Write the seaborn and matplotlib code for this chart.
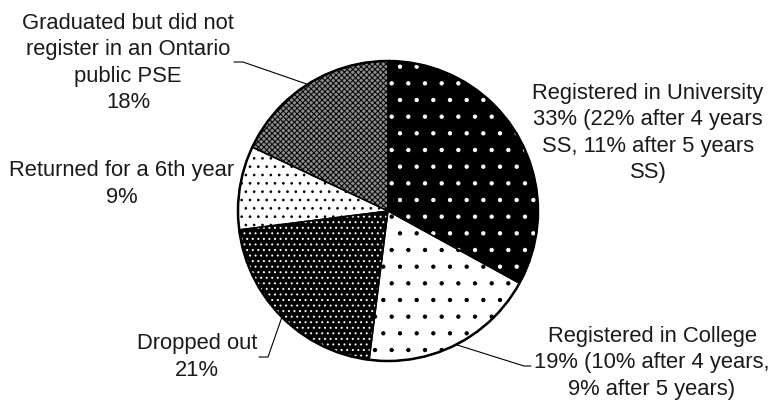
import matplotlib
matplotlib.use("Agg")
import matplotlib.pyplot as plt
from matplotlib.patches import Circle
import numpy as np
import seaborn as sns

# data - shares of the cohort (%), clockwise from 12 o'clock
categories = ["Registered in University", "Registered in College", "Dropped out",
              "Returned for a 6th year",
              "Graduated but did not register in an Ontario public PSE"]
shares = [33, 19, 21, 9, 18]
labels = [
    "Registered in University\n33% (22% after 4 years\nSS, 11% after 5 years\nSS)",
    "Registered in College\n19% (10% after 4 years,\n9% after 5 years)",
    "Dropped out\n21%",
    "Returned for a 6th year\n9%",
    "Graduated but did not\nregister in an Ontario\npublic PSE\n18%",
]

# styling (black & white pattern fills)
faces = ["black", "white", "black", "white", "#8c8c8c"]
dotcols = ["white", "black", "white", "black", "black"]
hatches = [".", ".", "...", "..", "xxxxxx"]

sns.set_theme(style="white")
plt.rcParams["font.family"] = ["Liberation Sans", "DejaVu Sans"]
plt.rcParams["hatch.linewidth"] = 0.7

W, H = 772, 406
def py(y):
    # pixel row (from top) -> data y
    return H - y

cx, cy, R = 388, py(212), 150

fig = plt.figure(figsize=(W / 100, H / 100), dpi=100)
ax = fig.add_axes([0, 0, 1, 1])

# fill layer with hatch, then outline layer
wedges, _ = ax.pie(shares, startangle=90, counterclock=False, center=(cx, cy),
                   radius=R, frame=True)
for w, fc, hc, h in zip(wedges, faces, dotcols, hatches):
    w.set_facecolor(fc)
    w.set_edgecolor(hc)
    w.set_hatch(h)
    w.set_linewidth(0)
ax.pie(shares, startangle=90, counterclock=False, center=(cx, cy), radius=R,
       frame=True, wedgeprops=dict(facecolor="none", edgecolor="black", linewidth=1.0))
ax.add_patch(Circle((cx, cy), R, fill=False, edgecolor="black", linewidth=1.8))

# label positions (px from left / top)
label_pos = [(648, 133), (652, 363), (197, 357), (122, 184), (128, 63)]
for (x, y), txt in zip(label_pos, labels):
    ax.text(x, py(y), txt, ha="center", va="center", fontsize=15.8,
            linespacing=1.33, color="#1a1a1a")

# leader lines: elbow + end next to the label
leaders = {4: [(243, 63), (234, 63)], 2: [(268, 358), (259, 358)],
           1: [(524, 367), (531, 367)]}
for i, pts in leaders.items():
    w = wedges[i]
    th = np.deg2rad((w.theta1 + w.theta2) / 2)
    xs = [cx + R * np.cos(th)] + [p[0] for p in pts]
    ys = [cy + R * np.sin(th)] + [py(p[1]) for p in pts]
    ax.plot(xs, ys, color="black", linewidth=0.8)

ax.set_xlim(0, W)
ax.set_ylim(0, H)
ax.set_aspect("equal")
ax.axis("off")

fig.savefig("out.png", dpi=100)
